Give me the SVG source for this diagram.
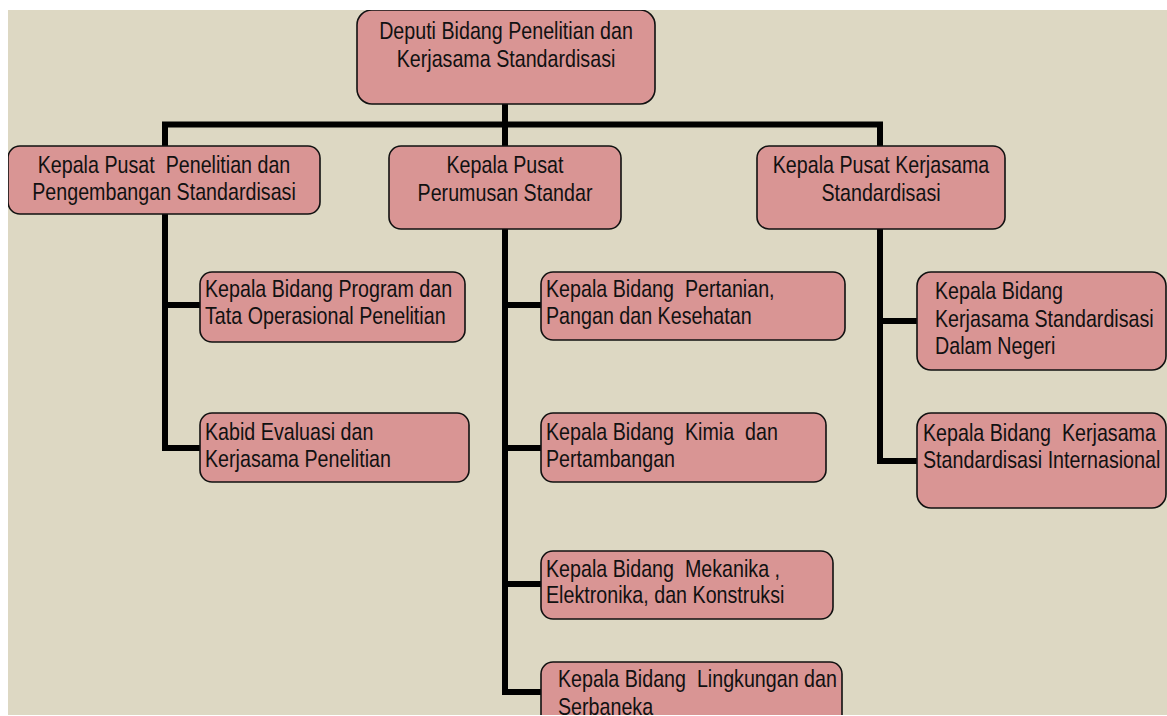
<svg xmlns="http://www.w3.org/2000/svg" width="1167" height="716" viewBox="0 0 1167 716" xml:space="preserve">
<style>
.bg{fill:#ddd8c3}
.box{fill:#d99594;stroke:#111;stroke-width:1.6}
.t{font-family:'Liberation Sans',Arial,sans-serif;font-size:24px;fill:#111;white-space:pre}
.c{text-anchor:middle}
.ln{fill:none;stroke:#000;stroke-width:6;stroke-linejoin:miter;stroke-linecap:butt}
</style>
<defs><clipPath id="area"><rect x="8" y="10" width="1159" height="705"/></clipPath></defs>
<rect width="1167" height="716" fill="#fff"/>
<rect class="bg" x="8" y="10" width="1159" height="705"/>
<g clip-path="url(#area)">
<g id="connectors">
<line class="ln" x1="505" y1="104" x2="505" y2="124"/>
<line class="ln" x1="162" y1="124.5" x2="883" y2="124.5"/>
<polyline class="ln" points="165,124 165,448 200,448"/>
<line class="ln" x1="165" y1="305" x2="200" y2="305"/>
<polyline class="ln" points="505,124 505,692 541,692"/>
<line class="ln" x1="505" y1="305" x2="541" y2="305"/>
<line class="ln" x1="505" y1="448" x2="541" y2="448"/>
<line class="ln" x1="505" y1="584" x2="541" y2="584"/>
<polyline class="ln" points="880,124 880,461 917,461"/>
<line class="ln" x1="880" y1="321" x2="917" y2="321"/>
</g>
<g id="n-deputi"><rect class="box" x="357" y="10" width="298" height="94" rx="15"/>
<text class="t c" transform="translate(506,39) scale(0.82,1)">Deputi Bidang Penelitian dan</text><text class="t c" transform="translate(506,67) scale(0.82,1)">Kerjasama Standardisasi</text></g>
<g id="n-pusat-litbang"><rect class="box" x="8" y="146" width="312" height="68" rx="12"/>
<text class="t c" transform="translate(164,173) scale(0.82,1)">Kepala Pusat  Penelitian dan</text><text class="t c" transform="translate(164,200) scale(0.82,1)">Pengembangan Standardisasi</text></g>
<g id="n-pusat-rumus"><rect class="box" x="389" y="146" width="232" height="83" rx="12"/>
<text class="t c" transform="translate(505,173) scale(0.82,1)">Kepala Pusat</text><text class="t c" transform="translate(505,201) scale(0.82,1)">Perumusan Standar</text></g>
<g id="n-pusat-kerjasama"><rect class="box" x="757" y="146" width="248" height="83" rx="12"/>
<text class="t c" transform="translate(881,173) scale(0.82,1)">Kepala Pusat Kerjasama</text><text class="t c" transform="translate(881,201) scale(0.82,1)">Standardisasi</text></g>
<g id="n-program"><rect class="box" x="200" y="272" width="265" height="70" rx="12"/>
<text class="t" transform="translate(205,297) scale(0.82,1)">Kepala Bidang Program dan</text><text class="t" transform="translate(205,324) scale(0.82,1)">Tata Operasional Penelitian</text></g>
<g id="n-evaluasi"><rect class="box" x="200" y="413" width="269" height="69" rx="12"/>
<text class="t" transform="translate(205,440) scale(0.82,1)">Kabid Evaluasi dan</text><text class="t" transform="translate(205,467) scale(0.82,1)">Kerjasama Penelitian</text></g>
<g id="n-pertanian"><rect class="box" x="541" y="272" width="304" height="68" rx="12"/>
<text class="t" transform="translate(546,297) scale(0.82,1)">Kepala Bidang  Pertanian,</text><text class="t" transform="translate(546,324) scale(0.82,1)">Pangan dan Kesehatan</text></g>
<g id="n-kimia"><rect class="box" x="541" y="413" width="285" height="69" rx="12"/>
<text class="t" transform="translate(546,440) scale(0.82,1)">Kepala Bidang  Kimia  dan</text><text class="t" transform="translate(546,467) scale(0.82,1)">Pertambangan</text></g>
<g id="n-mekanika"><rect class="box" x="541" y="551" width="292" height="68" rx="12"/>
<text class="t" transform="translate(546,577) scale(0.82,1)">Kepala Bidang  Mekanika ,</text><text class="t" transform="translate(546,603) scale(0.82,1)">Elektronika, dan Konstruksi</text></g>
<g id="n-lingkungan"><rect class="box" x="541" y="662" width="301" height="80" rx="12"/>
<text class="t" transform="translate(558,687) scale(0.82,1)">Kepala Bidang  Lingkungan dan</text><text class="t" transform="translate(558,715) scale(0.82,1)">Serbaneka</text></g>
<g id="n-dalam-negeri"><rect class="box" x="917" y="272" width="249" height="98" rx="14"/>
<text class="t" transform="translate(935,299) scale(0.82,1)">Kepala Bidang</text><text class="t" transform="translate(935,327) scale(0.82,1)">Kerjasama Standardisasi</text><text class="t" transform="translate(935,354) scale(0.82,1)">Dalam Negeri</text></g>
<g id="n-internasional"><rect class="box" x="917" y="413" width="249" height="95" rx="14"/>
<text class="t" transform="translate(923,441) scale(0.82,1)">Kepala Bidang  Kerjasama</text><text class="t" transform="translate(923,468) scale(0.82,1)">Standardisasi Internasional</text></g>
</g>
</svg>
